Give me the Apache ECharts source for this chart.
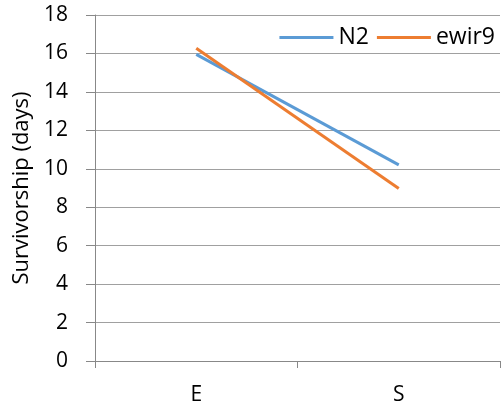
<!DOCTYPE html>
<html><head><meta charset="utf-8">
<script src="https://cdn.jsdelivr.net/npm/echarts@6/dist/echarts.min.js"></script>
<style>html,body{margin:0;padding:0;background:#fff}#c{width:502px;height:415px}</style>
</head><body><div id="c"></div>
<script>
const categories = ['E', 'S'];
const n2 = [15.95, 10.2];
const ewir9 = [16.27, 8.97];
const yTicks = {min: 0, max: 18, interval: 2};
const yTitle = 'Survivorship (days)';

const chart = echarts.init(document.getElementById('c'), null, {renderer: 'canvas'});
const font = '"Open Sans", sans-serif';
const fs = 21;
chart.setOption({
  animation: false,
  textStyle: {fontFamily: font},
  grid: {left: 95, right: 2, top: 15, bottom: 54},
  legend: {
    right: 2, top: 21, icon: 'rect', itemWidth: 54, itemHeight: 3, itemGap: 8,
    textStyle: {fontFamily: font, fontSize: 23, color: '#000'},
    data: ['N2', 'ewir9']
  },
  xAxis: {
    type: 'category', data: categories, boundaryGap: true,
    axisLine: {lineStyle: {color: '#888', width: 1}},
    axisTick: {show: true, length: 7, lineStyle: {color: '#888'}},
    axisLabel: {fontFamily: font, fontSize: fs, color: '#000', margin: 24}
  },
  yAxis: {
    type: 'value', min: yTicks.min, max: yTicks.max, interval: yTicks.interval,
    name: yTitle, nameLocation: 'middle', nameGap: 62,
    nameTextStyle: {fontFamily: font, fontSize: 22, color: '#000'},
    axisLine: {show: true, lineStyle: {color: '#888', width: 1}},
    axisTick: {show: true, length: 9, lineStyle: {color: '#888'}},
    axisLabel: {fontFamily: font, fontSize: fs, color: '#000', margin: 27},
    splitLine: {lineStyle: {color: '#a0a0a0', width: 1}}
  },
  series: [
    {name: 'N2', type: 'line', data: n2, symbol: 'none', lineStyle: {color: '#5B9BD5', width: 3}, itemStyle: {color: '#5B9BD5'}},
    {name: 'ewir9', type: 'line', data: ewir9, symbol: 'none', lineStyle: {color: '#ED7D31', width: 3}, itemStyle: {color: '#ED7D31'}}
  ]
});
</script></body></html>
